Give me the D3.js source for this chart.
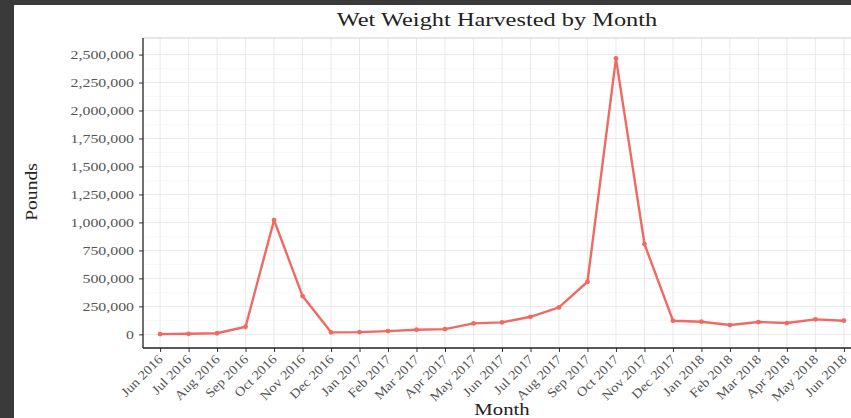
<!DOCTYPE html>
<html>
<head>
<meta charset="utf-8">
<script src="https://cdn.jsdelivr.net/npm/d3@7"></script>
<style>
    body { margin: 0; background: #3a3a3a; }
    .chart { position: relative; width: 851px; height: 418px; overflow: hidden; }
    svg { display: block; }
    text { font-family: 'Liberation Serif', 'DejaVu Serif', serif; }
</style>
</head>
<body>
<div class="chart line-harvest">
    <svg><g class="line-harvest-container"></g></svg>
</div>
<script>
// months in order
const months = [
    'Jun 2016', 'Jul 2016', 'Aug 2016', 'Sep 2016', 'Oct 2016', 'Nov 2016', 'Dec 2016',
    'Jan 2017', 'Feb 2017', 'Mar 2017', 'Apr 2017', 'May 2017', 'Jun 2017', 'Jul 2017',
    'Aug 2017', 'Sep 2017', 'Oct 2017', 'Nov 2017', 'Dec 2017', 'Jan 2018', 'Feb 2018',
    'Mar 2018', 'Apr 2018', 'May 2018', 'Jun 2018'
];
// wet weight, pounds
const pounds = [
    2000, 5000, 10000, 68000, 1021000, 342000, 18000,
    20000, 29000, 41000, 47000, 98000, 107000, 157000,
    241000, 470000, 2466000, 807000, 122000, 113000, 83000,
    110000, 101000, 134000, 122000
];
const yTicks = [0, 250000, 500000, 750000, 1000000, 1250000, 1500000, 1750000, 2000000, 2250000, 2500000];

const margin = { top: 38, right: -10, bottom: 70, left: 143 };
const w = 851;
const h = 418;
const width = w - margin.left - margin.right;
const height = h - margin.top - margin.bottom;

const chart = d3.select('.line-harvest');
const svg = chart.select('svg').attr('width', w).attr('height', h);

// the original font is a wide garamond, so widen the serif a bit
const stretch = (sel, k) => {
    sel.each(function() {
        const len = this.getComputedTextLength();
        d3.select(this).attr('textLength', len * k).attr('lengthAdjust', 'spacingAndGlyphs');
    });
};

// dark frame + white canvas
svg.insert('rect', 'g').attr('x', 14).attr('y', 5).attr('width', w).attr('height', h).attr('fill', '#fff');

const g = svg.select('.line-harvest-container')
    .attr('transform', `translate(${margin.left},${margin.top})`);

const x = d3.scalePoint().domain(months).range([0, width]).padding(0.6);
const y = d3.scaleLinear().domain([-122000, 2648000]).range([height, 0]);

// minor grid
const minor = yTicks.slice(0, -1).map((d) => d + 125000).concat([-125000]);
g.append('g').selectAll('line').data(minor).enter().append('line')
    .attr('x1', 0).attr('x2', width)
    .attr('y1', (d) => y(d)).attr('y2', (d) => y(d))
    .attr('stroke', '#f3f3f3').attr('stroke-width', 0.6);

// major grid
g.append('g').selectAll('line').data(yTicks).enter().append('line')
    .attr('x1', 0).attr('x2', width)
    .attr('y1', (d) => y(d)).attr('y2', (d) => y(d))
    .attr('stroke', '#e9e9e9').attr('stroke-width', 1);
g.append('g').selectAll('line').data(months).enter().append('line')
    .attr('x1', (d) => x(d)).attr('x2', (d) => x(d))
    .attr('y1', 0).attr('y2', height)
    .attr('stroke', '#e9e9e9').attr('stroke-width', 1);

// top border
g.append('line').attr('x1', 0).attr('x2', width).attr('y1', 0).attr('y2', 0)
    .attr('stroke', '#cfcfcf').attr('stroke-width', 1.2);

// axes
const axisY = d3.axisLeft(y).tickValues(yTicks).tickFormat(d3.format(',')).tickSizeOuter(0).tickSize(4);
const gy = g.append('g').attr('class', 'axis axis-y').call(axisY);
gy.select('.domain').remove();
g.append('line').attr('x1', 0).attr('x2', 0).attr('y1', 0).attr('y2', height)
    .attr('stroke', '#222').attr('stroke-width', 1.3);
gy.selectAll('.tick line').attr('stroke', '#333');
gy.selectAll('.tick text').attr('fill', '#555').attr('font-size', 13).attr('dx', -2)
    .style('font-family', "'Liberation Serif', serif")
    .call(stretch, 1.22);

const axisX = d3.axisBottom(x).tickSizeOuter(0).tickSize(4);
const gx = g.append('g').attr('class', 'axis axis-x')
    .attr('transform', `translate(0,${height})`).call(axisX);
gx.select('.domain').remove();
g.append('line').attr('x1', 0).attr('x2', width).attr('y1', height).attr('y2', height)
    .attr('stroke', '#222').attr('stroke-width', 1.3);
gx.selectAll('.tick line').attr('stroke', '#333');
gx.selectAll('.tick text')
    .attr('fill', '#555').attr('font-size', 13)
    .style('font-family', "'Liberation Serif', serif")
    .attr('text-anchor', 'end')
    .attr('y', 0)
    .attr('dy', 0)
    .attr('transform', 'translate(3,12) rotate(-45)')
    .call(stretch, 1.12);

// line + points
const line = d3.line()
    .x((d, i) => x(months[i]))
    .y((d) => y(d));

g.append('path').datum(pounds)
    .attr('class', 'line')
    .attr('fill', 'none')
    .attr('stroke', '#ef6a62')
    .attr('stroke-width', 2.4)
    .attr('stroke-linejoin', 'round')
    .attr('d', line);

g.append('g').selectAll('circle').data(pounds).enter().append('circle')
    .attr('cx', (d, i) => x(months[i]))
    .attr('cy', (d) => y(d))
    .attr('r', 2.4)
    .attr('fill', '#ef6a62');

// titles
svg.append('text').attr('x', 497).attr('y', 26).attr('text-anchor', 'middle')
    .attr('font-size', 19.5).attr('fill', '#222').text('Wet Weight Harvested by Month')
    .call(stretch, 1.25);
svg.append('text').attr('x', 502).attr('y', 415).attr('text-anchor', 'middle')
    .attr('font-size', 17).attr('fill', '#222').text('Month')
    .call(stretch, 1.22);
svg.append('text').attr('transform', 'translate(37,192) rotate(-90)').attr('text-anchor', 'middle')
    .attr('font-size', 17).attr('fill', '#222').text('Pounds')
    .call(stretch, 1.15);
</script>
</body>
</html>
